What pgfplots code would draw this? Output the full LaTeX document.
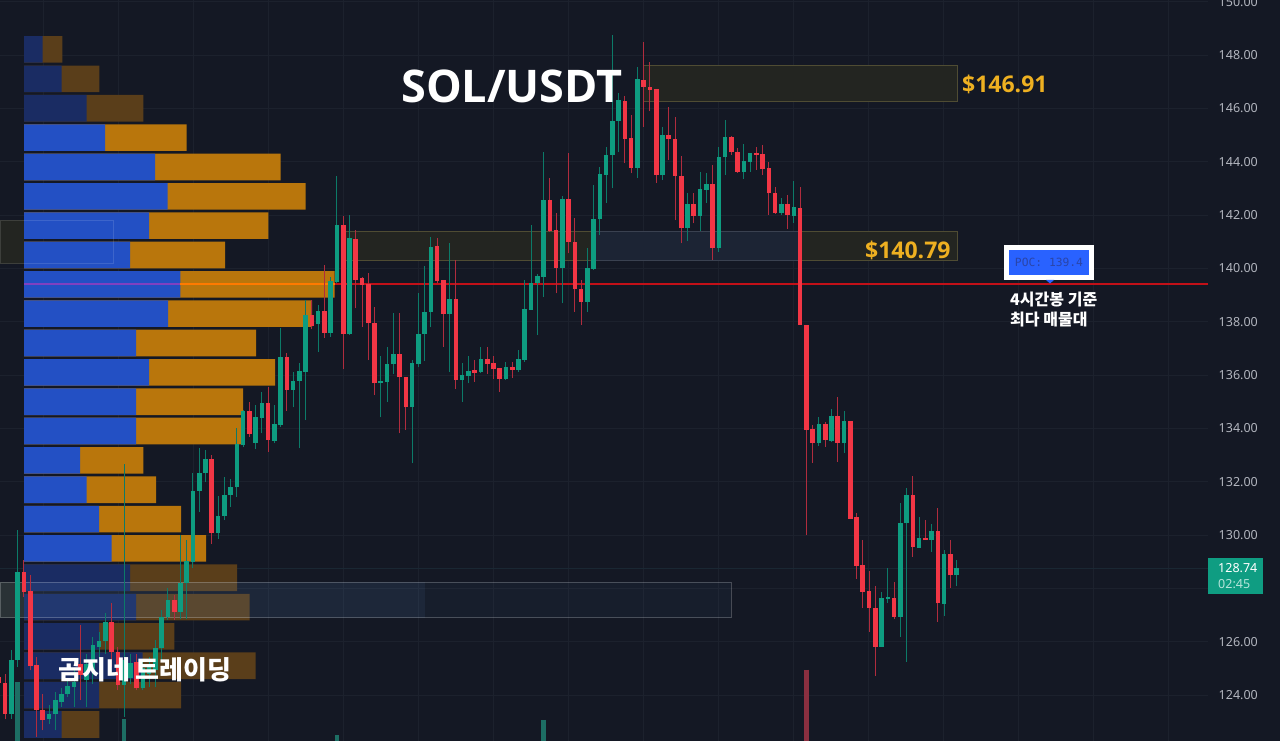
\documentclass[border=0pt]{standalone}
\usepackage{pgfplots}
\usepackage{pgfplotstable}
\usepackage{fontspec}
\pgfplotsset{compat=1.18}
\setmainfont{Noto Sans}
\newfontfamily\titlef{Open Sans}
\newfontfamily\cjk{Noto Sans CJK KR}
\newfontfamily\monof{DejaVu Sans Mono}
\definecolor{bgc}{HTML}{141824}
\definecolor{gridc}{HTML}{1C212D}
\definecolor{curl}{HTML}{1A2733}
\definecolor{grn}{HTML}{0E9C80}
\definecolor{grnw}{HTML}{0C7A68}
\definecolor{redc}{HTML}{F23645}
\definecolor{redw}{HTML}{B02C3E}
\definecolor{brb}{HTML}{2350C4}
\definecolor{bro}{HTML}{B9760C}
\definecolor{dmb}{HTML}{1A2C63}
\definecolor{dmo}{HTML}{5A3E1A}
\definecolor{olv}{HTML}{232521}
\definecolor{olb}{HTML}{4F4C33}
\definecolor{blr}{HTML}{1C2434}
\definecolor{blb}{HTML}{3A4150}
\definecolor{ovl}{HTML}{5F8FC8}
\definecolor{gold}{HTML}{EEB021}
\definecolor{pocb}{HTML}{2962FF}
\definecolor{poct}{HTML}{2A45A8}
\definecolor{tickc}{HTML}{B2B5BE}
\definecolor{redl}{HTML}{C21018}
\definecolor{orgl}{HTML}{FF7A00}
\definecolor{purl}{HTML}{8040C0}
\definecolor{volg}{HTML}{1D6E64}
\definecolor{volr}{HTML}{8A2F40}
\definecolor{lblg}{HTML}{0F9D82}
\definecolor{lblt}{HTML}{B5E4DA}
\pgfplotstableread{
y blue total
148.21 18.7 38.3
147.10 37.7 75.3
146.00 62.7 119.3
128.40 106 213
127.30 112 225.7
126.20 75 150.3
125.10 118.7 231.7
124.00 75 157
122.90 37.7 75.3
}\dimrows
\pgfplotstableread{
y blue total
144.90 81 162.7
143.80 131 256.7
142.70 143.7 281.7
141.60 125 244.3
140.50 106 201
139.40 156.3 310.5
138.30 144 288
137.20 112 232
136.10 125 251
135.00 112 219
133.90 112 220
132.80 56 119.3
131.70 62.7 132
130.60 75 157
129.50 87.7 182
}\brightrows
\pgfplotstableread{
k hi lo top bot
-1 125.69 123.12 125.31 123.31
0 130.19 125.06 128.60 125.31
5 123.62 122.93 123.31 123.09
6 124.12 122.68 123.83 123.28
7 124.25 123.56 124.06 123.75
8 124.56 123.93 124.34 124.03
9 124.93 123.56 124.50 124.29
11 125.56 123.56 125.18 124.56
12 126.18 124.43 125.87 124.93
13 126.37 125.31 126.02 125.81
14 127.06 125.56 126.75 126.02
17 132.68 123.18 125.31 124.37
18 125.56 124.43 125.21 124.66
20 125.31 124.18 125.00 124.25
21 125.44 124.31 125.06 124.81
22 126.06 124.31 125.78 124.93
23 127.18 125.31 126.93 125.75
24 128.00 126.81 127.56 126.93
26 130.00 126.87 128.21 127.12
27 129.81 126.87 129.03 128.21
28 132.31 128.75 131.66 129.00
29 133.25 130.87 132.31 131.66
30 133.18 132.00 132.85 132.31
32 131.46 129.87 130.71 130.09
33 132.18 130.56 131.50 130.71
34 132.12 131.06 131.81 131.50
35 134.00 131.43 133.43 131.79
36 134.70 133.30 134.66 133.38
38 134.88 133.22 134.41 133.46
39 135.38 133.81 134.96 134.38
41 134.88 133.44 134.15 133.54
42 137.75 134.06 136.66 134.13
44 136.13 134.79 135.79 135.44
45 136.46 133.25 136.16 135.79
46 138.81 134.31 138.25 136.13
48 138.63 136.88 138.41 137.91
50 139.66 137.44 139.54 137.59
51 143.46 139.44 141.63 139.50
53 142.00 137.50 141.13 137.53
58 136.71 134.41 135.79 135.69
59 137.06 135.00 136.41 135.75
60 138.34 136.04 136.78 136.40
63 136.56 132.69 136.44 134.79
64 139.09 136.29 137.54 136.41
65 140.09 136.54 138.38 137.53
66 141.19 137.79 140.81 138.38
69 140.94 136.13 138.84 138.28
71 136.46 135.00 136.00 135.81
72 136.71 135.69 136.16 135.96
74 137.04 136.06 136.60 136.10
78 136.50 135.81 136.29 135.85
80 136.94 136.13 136.60 136.19
81 139.56 136.50 138.46 136.56
82 141.63 138.44 139.44 138.44
83 139.79 137.50 139.72 139.44
84 144.38 138.94 142.56 139.69
87 142.73 138.69 142.59 140.03
91 140.75 138.38 140.00 138.75
92 143.13 139.94 141.84 139.99
93 143.81 141.25 143.53 141.84
94 144.56 142.46 144.25 143.50
95 148.75 143.00 145.53 144.25
96 146.56 144.38 146.31 145.53
99 147.56 143.38 147.09 143.78
103 145.29 143.31 145.00 143.49
107 142.81 141.04 142.41 141.50
109 143.63 141.41 142.96 141.98
110 143.56 142.44 143.15 142.94
112 144.54 140.63 144.19 140.75
113 145.56 143.50 144.91 144.16
116 144.65 143.35 144.03 143.63
117 144.34 143.63 144.34 144.00
122 142.65 142.00 142.41 142.09
124 143.28 141.71 142.29 141.98
128 134.44 133.34 134.16 133.47
130 134.72 133.50 134.47 133.54
132 134.66 133.09 134.27 133.44
138 127.87 125.81 127.65 125.81
139 128.75 127.46 127.66 127.61
141 131.21 126.18 130.46 126.94
142 131.75 125.25 131.52 130.44
144 130.69 129.53 129.90 129.53
146 130.41 129.37 130.15 129.81
148 129.44 126.96 129.29 127.41
150 129.06 128.09 128.77 128.49
}\greens
\pgfplotstableread{
k hi lo top bot
-3 124.93 123.94 124.69 124.44
-2 124.81 123.09 124.47 123.31
1 129.06 127.69 128.62 127.87
2 128.50 124.93 127.91 125.09
3 125.44 122.43 125.12 123.46
4 124.06 122.68 123.43 123.06
10 126.62 123.81 125.18 124.75
15 127.46 125.06 126.75 125.62
16 125.81 124.18 125.62 124.37
19 125.56 124.18 125.25 124.25
25 127.75 126.81 127.56 127.12
31 133.00 129.66 132.85 130.09
37 135.00 133.69 134.66 133.79
40 135.56 133.13 134.94 133.56
43 136.81 134.66 136.66 135.44
47 138.81 137.71 138.25 137.84
49 140.13 137.38 138.41 137.59
52 141.96 136.21 141.63 137.53
54 141.44 138.50 141.10 139.56
55 139.69 137.81 139.63 139.38
56 139.81 136.56 139.41 137.94
57 138.56 135.25 137.94 135.69
61 138.34 133.81 136.78 135.91
62 135.94 133.94 135.94 134.79
67 141.13 139.44 140.84 139.54
68 139.56 137.06 139.56 138.28
70 140.31 135.47 138.84 135.81
73 136.56 135.75 136.19 136.09
75 137.06 136.04 136.60 136.41
76 136.73 135.84 136.44 136.21
77 136.25 135.38 136.25 135.84
79 136.50 135.88 136.29 136.19
85 143.38 141.38 142.56 141.40
86 142.06 139.06 141.44 140.03
88 144.31 140.56 142.59 141.00
89 141.88 138.38 141.00 139.21
90 139.56 137.88 139.21 138.75
97 146.46 143.94 146.29 144.84
98 145.75 143.56 144.88 143.78
100 148.50 145.31 147.06 146.79
101 147.75 145.88 146.81 146.69
102 146.72 143.21 146.72 143.49
104 146.06 144.06 145.00 144.85
105 145.66 141.81 144.86 143.48
106 144.21 140.94 143.48 141.50
108 142.84 141.69 142.41 141.98
111 143.88 140.31 143.15 140.75
114 144.96 144.25 144.91 144.35
115 144.50 143.59 144.38 143.63
118 144.56 143.69 144.34 144.26
119 144.63 143.50 144.29 143.71
120 144.00 142.00 143.75 142.81
121 143.06 142.04 142.84 142.09
123 142.75 141.48 142.41 142.00
125 143.06 137.88 142.28 137.88
126 137.88 130.02 137.88 133.93
127 134.12 132.71 133.96 133.46
129 134.25 133.31 134.16 133.56
131 135.19 132.75 134.48 133.46
133 134.27 130.62 134.27 130.62
134 130.84 128.37 130.66 128.84
135 129.81 127.27 128.86 127.86
136 128.66 126.37 127.90 127.26
137 128.08 124.71 127.27 125.81
140 128.25 126.84 127.65 126.94
143 132.21 129.18 131.52 129.56
145 130.56 129.81 129.89 129.81
147 131.00 126.75 130.15 127.44
149 129.81 128.03 129.29 128.49
}\reds
\pgfplotstableread{
k v
0 124.50
17 123.10
51 122.50
84 123.07
}\volgreen
\pgfplotstableread{
k v
126 124.96
}\volred
\newcommand{\wick}[2]{\addplot[draw=none,mark=none,error bars/.cd,y dir=plus,y explicit,error mark=none,error bar style={draw=#2,line width=1bp}] table[x=k,y=lo,y error plus expr=\thisrow{hi}-\thisrow{lo},y error minus expr=0] {#1};}
\newcommand{\body}[2]{\addplot[draw=none,mark=none,error bars/.cd,y dir=plus,y explicit,error mark=none,error bar style={draw=#2,line width=4.6bp}] table[x=k,y=bot,y error plus expr=\thisrow{top}-\thisrow{bot},y error minus expr=0] {#1};}
\newcommand{\vol}[2]{\addplot[draw=none,mark=none,error bars/.cd,y dir=minus,y explicit,error mark=none,error bar style={draw=#2,line width=4.6bp}] table[x=k,y=v,y error plus expr=0,y error minus expr=3] {#1};}
\newcommand{\rect}[5]{\addplot[#5,mark=none] coordinates {(#1,#2)(#3,#2)(#3,#4)(#1,#4)} --cycle;}
\newcommand{\fs}[1]{\fontsize{#1bp}{1.25\dimexpr#1bp\relax}\selectfont}
\begin{document}
\begin{tikzpicture}
\useasboundingbox (0,0) rectangle (1280bp,741bp);
\clip (0,0) rectangle (1280bp,741bp);
\fill[bgc] (0,0) rectangle (1280bp,741bp);
\begin{axis}[
  at={(0,0)},anchor=south west,scale only axis,width=1280bp,height=741bp,
  xmin=-24,xmax=1256,ymin=122.28,ymax=150.06,
  axis line style={draw=none},major tick length=0pt,
  xtick={19,94,...,1144},xticklabels={},
  ytick={124,126,...,150},yticklabels={},
  extra y ticks={128},extra y tick labels={},
  grid=major,major grid style={draw=gridc,line width=.8bp},
]
\rect{1184}{122.28}{1256}{150.06}{fill=bgc,draw=none}
\addplot[draw=curl,line width=.8bp,mark=none] coordinates {(-24,128.74)(1184,128.74)};
% price boxes
\rect{619}{146.26}{933}{147.59}{fill=olv,draw=olb,line width=.8bp}
\rect{321}{140.29}{933}{141.38}{fill=olv,draw=olb,line width=.8bp}
\rect{569}{140.29}{774}{141.38}{fill=blr,draw=blb,line width=.8bp}
\rect{-24}{140.18}{0}{141.81}{fill=olv,draw=none}
\rect{-24}{126.90}{0}{128.23}{fill=olv,draw=none}
% volume profile
\addplot[xbar,bar shift=0pt,bar width=26.6bp,fill=dmo,draw=none] table[x=total,y=y] {\dimrows};
\addplot[xbar,bar shift=0pt,bar width=26.6bp,fill=dmb,draw=none] table[x=blue,y=y] {\dimrows};
\addplot[xbar,bar shift=0pt,bar width=26.6bp,fill=bro,draw=none] table[x=total,y=y] {\brightrows};
\addplot[xbar,bar shift=0pt,bar width=26.6bp,fill=brb,draw=none] table[x=blue,y=y] {\brightrows};
% overlays
\rect{-24}{140.18}{89}{141.81}{fill=none,draw=white,draw opacity=.12,line width=.7bp}
\rect{-24}{126.90}{401}{128.23}{fill=ovl,fill opacity=.13,draw=none}
\rect{401}{126.90}{707}{128.23}{fill=ovl,fill opacity=.05,draw=none}
\rect{-24}{126.90}{707}{128.23}{fill=none,draw=white,draw opacity=.22,line width=.8bp}
% POC line
\addplot[draw=purl,line width=2.2bp,mark=none] coordinates {(0,139.4)(156,139.4)};
\addplot[draw=orgl,line width=2.2bp,mark=none] coordinates {(156,139.4)(311,139.4)};
\addplot[draw=redl,line width=2.2bp,mark=none] coordinates {(311,139.4)(1184,139.4)};
\end{axis}
\begin{axis}[
  at={(0,0)},anchor=south west,scale only axis,width=1280bp,height=741bp,
  xmin=-2.83,xmax=201.65,ymin=122.28,ymax=150.06,hide axis,
]
\vol{\volgreen}{volg}
\vol{\volred}{volr}
\wick{\greens}{grnw}
\wick{\reds}{redw}
\body{\greens}{grn}
\body{\reds}{redc}
\end{axis}
\begin{axis}[
  at={(0,0)},anchor=south west,scale only axis,width=1280bp,height=741bp,
  xmin=-24,xmax=1256,ymin=122.28,ymax=150.06,
  axis line style={draw=none},major tick length=0pt,xtick=\empty,
  ytick={124,126,130,132,134,136,138,140,142,144,146,148,150},
  yticklabel pos=right,
  yticklabel style={anchor=east,xshift=-22bp,inner xsep=0pt,text=tickc,font=\fontsize{12.5bp}{15bp}\selectfont},
  /pgf/number format/assume math mode=true,
  /pgf/number format/fixed,/pgf/number format/fixed zerofill,/pgf/number format/precision=2,
  /pgf/number format/1000 sep={},
]
\end{axis}
\node[anchor=center,text=white,inner sep=0pt] at (512bp,655bp) {\titlef\fs{45}\bfseries SOL/USDT};
\node[anchor=west,text=gold,inner sep=0pt] at (962bp,657bp) {\titlef\fs{23}\bfseries \$146.91};
\node[anchor=west,text=gold,inner sep=0pt] at (865bp,491bp) {\titlef\fs{23}\bfseries \$140.79};
\node[anchor=west,text=white,inner sep=0pt] at (58bp,71bp) {\cjk\fs{26}\bfseries 곰지네 트레이딩};
\node[anchor=west,text=white,inner sep=0pt] at (1010bp,441bp) {\cjk\fs{16}\bfseries 4시간봉 기준};
\node[anchor=west,text=white,inner sep=0pt] at (1010bp,421bp) {\cjk\fs{16}\bfseries 최다 매물대};
\node[fill=pocb,draw=white,line width=5bp,minimum width=84.6bp,minimum height=30bp,inner sep=0pt,text=poct] at (1049bp,478.5bp) {\monof\fs{11.3}POC: 139.4};
\fill[pocb] (1046bp,461bp) -- (1054bp,461bp) -- (1050bp,457.5bp) -- cycle;
\fill[lblg] (1208bp,147bp) rectangle (1263bp,183bp);
\node[anchor=west,text=white,inner sep=0pt] at (1218bp,173bp) {\fs{12.5}128.74};
\node[anchor=west,text=lblt,inner sep=0pt] at (1218bp,157bp) {\fs{12.5}02:45};
\end{tikzpicture}
\end{document}
